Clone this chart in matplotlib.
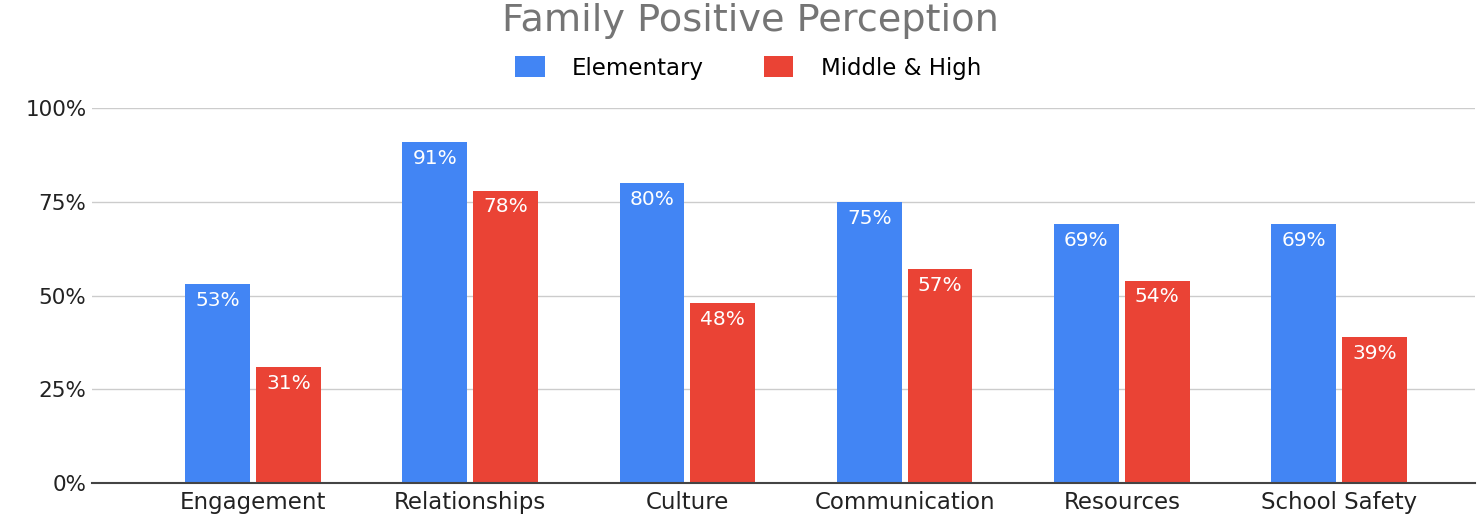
import matplotlib
matplotlib.use("Agg")
import matplotlib.pyplot as plt
from matplotlib.patches import Patch

categories = ["Engagement", "Relationships", "Culture", "Communication", "Resources", "School Safety"]
elementary = [53, 91, 80, 75, 69, 69]
middle_high = [31, 78, 48, 57, 54, 39]
yticks = [0, 25, 50, 75, 100]
ytick_labels = ["0%", "25%", "50%", "75%", "100%"]

BLUE = "#4285F4"
RED = "#EA4335"

plt.rcParams['font.family'] = ['DejaVu Sans']

W, H = 1482, 514
fig = plt.figure(figsize=(W/100, H/100), dpi=100)
ax = fig.add_axes([92/W, 31/H, (1475-92)/W, (483-108)/H])

x = list(range(len(categories)))
bw = 0.299
off = 0.163
b1 = ax.bar([i - off for i in x], elementary, width=bw, color=BLUE, zorder=3)
b2 = ax.bar([i + off for i in x], middle_high, width=bw, color=RED, zorder=3)

for bars, vals in ((b1, elementary), (b2, middle_high)):
    for rect, v in zip(bars, vals):
        ax.annotate(f"{v}%", (rect.get_x() + rect.get_width()/2, v),
                    xytext=(0, -5), textcoords="offset points",
                    ha="center", va="top", color="white", fontsize=14.5, zorder=4)

ax.set_ylim(0, 100)
ax.set_xlim(-0.741, 5.626)
ax.set_yticks(yticks)
ax.set_yticklabels(ytick_labels, fontsize=15.5, color="#222222")
ax.set_xticks(x)
ax.set_xticklabels(categories, fontsize=16.5, color="#222222")
ax.tick_params(axis="both", length=0)
ax.tick_params(axis="y", pad=4)
ax.tick_params(axis="x", pad=6)
ax.grid(axis="y", color="#cccccc", linewidth=1, zorder=0)
for s in ["top", "right", "left"]:
    ax.spines[s].set_visible(False)
ax.spines["bottom"].set_color("#444444")
ax.spines["bottom"].set_linewidth(1.5)
ax.spines["bottom"].set_zorder(5)

fig.text(750/W, 1 - 21/H, "Family Positive Perception", ha="center", va="center",
         fontsize=27.5, color="#757575")

handles = [Patch(facecolor=BLUE, edgecolor="none"), Patch(facecolor=RED, edgecolor="none")]
fig.legend(handles, ["Elementary", "Middle & High"], loc="center",
           bbox_to_anchor=(748/W, 1 - 68/H), ncol=2, frameon=False,
           fontsize=16.5, handlelength=1.3, handleheight=1.0, handletextpad=1.2,
           columnspacing=2.6)

fig.savefig("out.png", dpi=100, facecolor="white")
